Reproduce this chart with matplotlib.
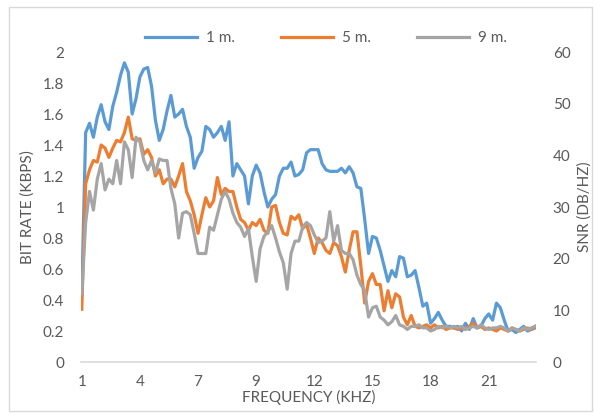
import matplotlib.pyplot as plt
import numpy as np
from matplotlib.patches import Rectangle

plt.rcParams['font.family'] = ['Lato', 'DejaVu Sans']

# bit rate (kbps) per frequency bin
rate_1m = [0.44, 1.48, 1.54, 1.45, 1.58, 1.66, 1.55, 1.50, 1.65, 1.74,
           1.85, 1.93, 1.87, 1.60, 1.70, 1.84, 1.89, 1.90, 1.78, 1.56,
           1.43, 1.50, 1.62, 1.72, 1.58, 1.60, 1.63, 1.52, 1.45, 1.25,
           1.32, 1.36, 1.52, 1.50, 1.45, 1.48, 1.52, 1.43, 1.55, 1.20,
           1.28, 1.24, 1.20, 1.02, 1.20, 1.27, 1.22, 1.10, 1.00, 1.05,
           1.08, 1.20, 1.25, 1.25, 1.29, 1.20, 1.21, 1.24, 1.35, 1.37,
           1.37, 1.37, 1.28, 1.24, 1.23, 1.23, 1.23, 1.25, 1.22, 1.26,
           1.22, 1.13, 1.12, 0.92, 0.70, 0.81, 0.80, 0.72, 0.62, 0.52,
           0.59, 0.55, 0.68, 0.67, 0.55, 0.56, 0.59, 0.48, 0.36, 0.38,
           0.25, 0.28, 0.32, 0.27, 0.23, 0.23, 0.22, 0.23, 0.20, 0.25,
           0.21, 0.28, 0.22, 0.23, 0.28, 0.31, 0.27, 0.38, 0.35, 0.27,
           0.20, 0.21, 0.19, 0.21, 0.23, 0.20, 0.21, 0.22]
rate_5m = [0.34, 1.15, 1.24, 1.30, 1.29, 1.40, 1.38, 1.32, 1.38, 1.43,
           1.42, 1.48, 1.58, 1.44, 1.43, 1.44, 1.34, 1.37, 1.32, 1.20,
           1.24, 1.15, 1.18, 1.18, 1.13, 1.20, 1.28, 1.10, 1.04, 0.95,
           0.83, 0.95, 1.06, 1.00, 1.04, 1.19, 1.08, 1.12, 1.10, 1.10,
           1.00, 0.92, 0.90, 0.85, 0.90, 0.88, 0.92, 0.85, 0.83, 1.00,
           1.01, 0.90, 0.83, 0.82, 0.94, 0.92, 0.95, 0.86, 0.89, 0.80,
           0.70, 0.80, 0.77, 0.72, 0.70, 0.77, 0.75, 0.68, 0.58, 0.72,
           0.84, 0.84, 0.62, 0.38, 0.52, 0.57, 0.50, 0.50, 0.33, 0.46,
           0.35, 0.44, 0.42, 0.29, 0.24, 0.30, 0.23, 0.22, 0.23, 0.24,
           0.22, 0.24, 0.22, 0.23, 0.21, 0.22, 0.22, 0.21, 0.22, 0.21,
           0.23, 0.25, 0.22, 0.23, 0.21, 0.22, 0.21, 0.20, 0.22, 0.21,
           0.20, 0.22, 0.21, 0.20, 0.21, 0.22, 0.21, 0.23]
rate_9m = [0.44, 0.90, 1.10, 0.98, 1.18, 1.28, 1.11, 1.18, 1.15, 1.30,
           1.15, 1.42, 1.37, 1.19, 1.45, 1.42, 1.30, 1.24, 1.30, 1.22,
           1.31, 1.30, 1.30, 1.12, 1.02, 0.80, 0.96, 0.97, 0.95, 0.83,
           0.70, 0.70, 0.70, 0.87, 0.85, 0.95, 1.05, 1.10, 1.05, 0.96,
           0.90, 0.87, 0.81, 0.86, 0.68, 0.52, 0.73, 0.81, 0.84, 0.88,
           0.80, 0.71, 0.64, 0.47, 0.70, 0.78, 0.78, 0.87, 0.90, 0.88,
           0.82, 0.77, 0.78, 0.80, 0.97, 0.78, 0.88, 0.72, 0.70, 0.70,
           0.66, 0.56, 0.50, 0.46, 0.29, 0.35, 0.36, 0.29, 0.27, 0.24,
           0.26, 0.30, 0.24, 0.23, 0.21, 0.23, 0.23, 0.24, 0.22, 0.22,
           0.20, 0.21, 0.23, 0.22, 0.23, 0.22, 0.23, 0.22, 0.23, 0.21,
           0.22, 0.23, 0.22, 0.24, 0.22, 0.21, 0.22, 0.22, 0.23, 0.22,
           0.20, 0.22, 0.21, 0.20, 0.22, 0.21, 0.22, 0.23]

freq_labels = ['1', '4', '7', '9', '12', '15', '18', '21']
label_every = 15
series_names = ['1 m.', '5 m.', '9 m.']
colors = ['#5B9BD5', '#ED7D31', '#A5A5A5']

txt = '#595959'
fs = 11
fig = plt.figure(figsize=(5.94, 4.15), dpi=100)
fig.patches.append(Rectangle((9 / 594, 4 / 415), 583 / 594, 404 / 415,
                             transform=fig.transFigure, fill=False,
                             edgecolor='#d9d9d9', lw=1))
ax = fig.add_axes([81 / 594, 1 - 362 / 415, 455 / 594, 310 / 415])

idx = np.arange(len(rate_1m))
for data, name, c in zip([rate_1m, rate_5m, rate_9m], series_names, colors):
    ax.plot(idx, data, color=c, lw=2.3, label=name, solid_joinstyle='round')

ax.set_xlim(-0.2, len(rate_1m) - 0.8)
ax.set_ylim(0, 2)
ax.set_yticks(np.arange(0, 2.01, 0.2))
ax.set_yticklabels([f'{v:g}' for v in np.arange(0, 2.01, 0.2).round(1)])
ax.set_xticks(np.arange(len(freq_labels)) * label_every)
ax.set_xticklabels(freq_labels)

for s in ['top', 'right', 'left']:
    ax.spines[s].set_visible(False)
ax.spines['bottom'].set_color('#d9d9d9')
ax.spines['bottom'].set_linewidth(1.2)
ax.tick_params(axis='y', length=0, pad=12, labelsize=fs, labelcolor=txt)
ax.tick_params(axis='x', length=0, pad=9, labelsize=fs, labelcolor=txt)
ax.set_xlabel('FREQUENCY (KHZ)', color=txt, fontsize=fs, labelpad=1)
ax.set_ylabel('BIT RATE (KBPS)', color=txt, fontsize=fs, labelpad=6)

ax2 = ax.twinx()
ax2.set_ylim(0, 60)
ax2.set_yticks(np.arange(0, 61, 10))
for s in ax2.spines.values():
    s.set_visible(False)
ax2.tick_params(axis='y', length=0, pad=12, labelsize=fs, labelcolor=txt)
ax2.set_ylabel('SNR (DB/HZ)', color=txt, fontsize=fs, labelpad=5)

fig.legend(loc='center', bbox_to_anchor=(326 / 594, 1 - 38 / 415), ncol=3,
           frameon=False, fontsize=fs, labelcolor=txt, handlelength=3.4,
           handletextpad=0.6, columnspacing=3.0)

fig.savefig('out.png', dpi=100)
